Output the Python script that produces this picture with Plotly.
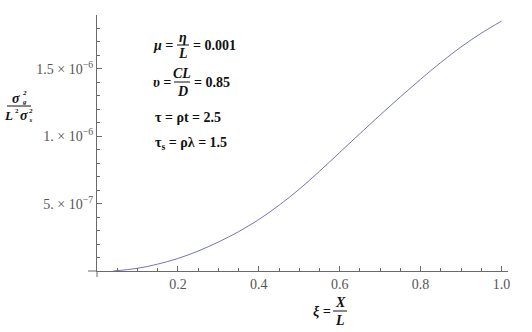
import plotly.graph_objects as go

# ---- data ----
xi = [0.04, 0.10, 0.15, 0.20, 0.25, 0.30, 0.35, 0.40, 0.45, 0.50,
      0.55, 0.60, 0.65, 0.70, 0.75, 0.80, 0.85, 0.90, 0.95, 1.00]
ratio = [0.0, 0.020e-6, 0.051e-6, 0.093e-6, 0.148e-6, 0.215e-6, 0.292e-6, 0.382e-6, 0.488e-6, 0.607e-6,
         0.740e-6, 0.880e-6, 1.020e-6, 1.158e-6, 1.293e-6, 1.423e-6, 1.548e-6, 1.663e-6, 1.765e-6, 1.855e-6]

x_ticks = [0.2, 0.4, 0.6, 0.8, 1.0]
x_ticktext = ["0.2", "0.4", "0.6", "0.8", "1.0"]
x_minor = [0.05 * i for i in range(1, 21)]
y_ticks = [5e-7, 1e-6, 1.5e-6]
y_ticktext = ["5. × 10<sup>−7</sup>", "1. × 10<sup>−6</sup>", "1.5 × 10<sup>−6</sup>"]
y_minor = [1e-7 * i for i in range(1, 20)]

W, H = 532, 332
L, R, T, B = 97, 24, 15, 61
PW, PH = W - L - R, H - T - B

def px(x):
    return (x - L) / PW

def py(y):
    return (H - B - y) / PH

AX = "#6a6a6a"
SERIF = "Liberation Serif"

fig = go.Figure()
fig.add_trace(go.Scatter(x=xi, y=ratio, mode="lines", line=dict(color="#7474BC", width=1, shape="spline", smoothing=1),
                         hoverinfo="skip", showlegend=False))

fig.update_layout(
    width=W, height=H, margin=dict(l=L, r=R, t=T, b=B),
    paper_bgcolor="white", plot_bgcolor="white",
    font=dict(family=SERIF, size=12, color="#444"),
    xaxis=dict(range=[0, 1.016], showgrid=False, zeroline=False, showline=True, linecolor=AX, linewidth=1,
               tickmode="array", tickvals=x_ticks, ticktext=x_ticktext, ticks="inside", ticklen=5,
               tickcolor=AX, tickfont=dict(family=SERIF, size=14, color="#555"),
               minor=dict(tickmode="array", tickvals=x_minor, ticks="inside", ticklen=3, tickcolor=AX)),
    yaxis=dict(range=[0, 1.9e-6], showgrid=False, zeroline=False, showline=True, linecolor=AX, linewidth=1,
               tickmode="array", tickvals=y_ticks, ticktext=y_ticktext, ticks="inside", ticklen=5,
               tickcolor=AX, tickfont=dict(family=SERIF, size=14, color="#555"),
               minor=dict(tickmode="array", tickvals=y_minor, ticks="inside", ticklen=3, tickcolor=AX)),
)

shapes = [
    # axis overhangs
    dict(type="line", xref="paper", yref="paper", x0=px(88), x1=px(L), y0=0, y1=0, line=dict(color=AX, width=1)),
    dict(type="line", xref="paper", yref="paper", x0=0, x1=0, y0=py(277), y1=0, line=dict(color=AX, width=1)),
]

anns = []

def txt(x, y, s, size=14, xanchor="center", bold=True, italic=True, color="#111", pad=1):
    t = s
    if italic:
        t = "<i>" + t + "</i>"
    if bold:
        t = "<b>" + t + "</b>"
    anns.append(dict(x=px(x), y=py(y), xref="paper", yref="paper", text=t, showarrow=False,
                     xanchor=xanchor, yanchor="middle", borderpad=pad,
                     font=dict(family=SERIF, size=size, color=color)))

def hline(x0, x1, y):
    shapes.append(dict(type="line", xref="paper", yref="paper", x0=px(x0), x1=px(x1), y0=py(y), y1=py(y),
                       line=dict(color="#111", width=1)))

# parameter box
txt(151, 45, "μ =", xanchor="left")
txt(183, 37, "η")
hline(177, 189, 45)
txt(183, 53, "L")
txt(191, 45, "= 0.001", xanchor="left", italic=False)

txt(151, 82, "υ =", xanchor="left")
txt(182, 73, "CL")
hline(174, 190, 82)
txt(182, 91, "D")
txt(192, 82, "= 0.85", xanchor="left", italic=False)

txt(153, 117, "τ = ρt = 2.5", xanchor="left", italic=False)
txt(153, 143, "τ<sub>s</sub> = ρλ = 1.5", xanchor="left", italic=False)

# x axis title
txt(322, 311, "ξ =", xanchor="center")
txt(340, 302, "X")
hline(333, 347, 311)
txt(340, 320, "L")

# y axis title (stacked super/subscripts)
txt(21, 98, "σ", size=14, xanchor="right", pad=0)
txt(21, 97, "2<br>g", size=7, xanchor="left", pad=0)
hline(7, 31, 106)
txt(14, 115, "L", size=13, xanchor="right", pad=0)
txt(14, 111, "2", size=7, xanchor="left", italic=False, pad=0)
txt(19, 115, "σ", size=14, xanchor="left", pad=0)
txt(27, 115, "2<br>s", size=7, xanchor="left", pad=0)

fig.update_layout(shapes=shapes, annotations=anns)
fig.write_html("out.html")
